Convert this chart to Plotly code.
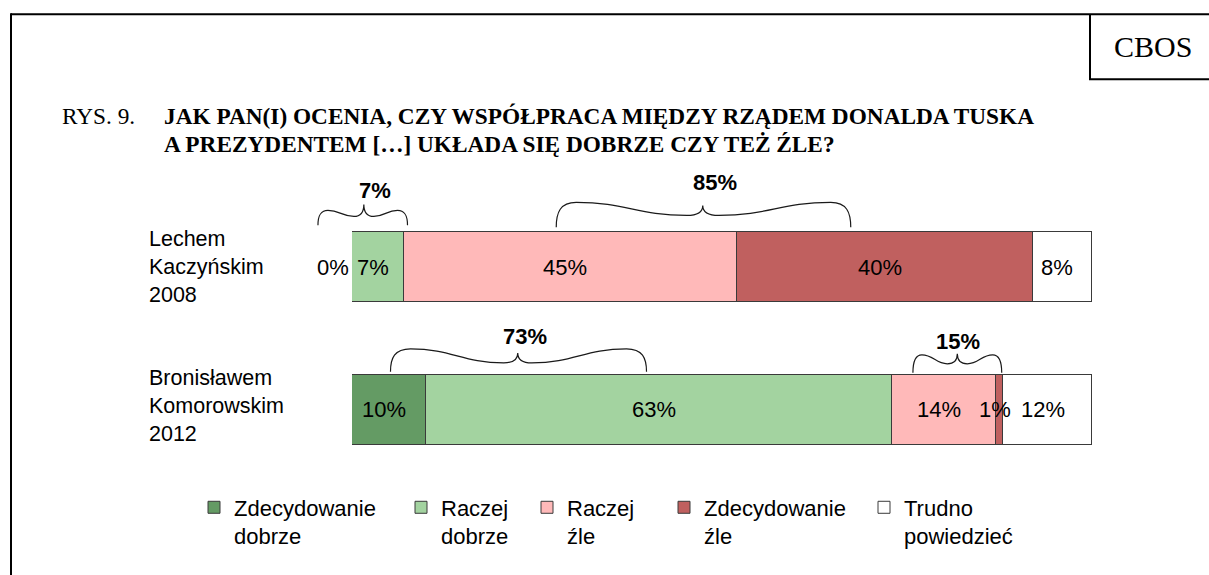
import plotly.graph_objects as go

# ---------------- data ----------------
categories = ["Lechem<br>Kaczyńskim<br>2008", "Bronisławem<br>Komorowskim<br>2012"]
series_names = ["Zdecydowanie<br>dobrze", "Raczej<br>dobrze", "Raczej<br>źle",
                "Zdecydowanie<br>źle", "Trudno<br>powiedzieć"]
zdecydowanie_dobrze = [0, 10]
raczej_dobrze = [7, 63]
raczej_zle = [45, 14]
zdecydowanie_zle = [40, 1]
trudno_powiedziec = [8, 12]
series_values = [zdecydowanie_dobrze, raczej_dobrze, raczej_zle,
                 zdecydowanie_zle, trudno_powiedziec]
# grouped sums shown with braces: (row, first series, last series)
brace_groups = [(0, 0, 1), (0, 2, 3), (1, 0, 1), (1, 2, 3)]

title_prefix = "RYS. 9."
title_lines = ["JAK PAN(I) OCENIA, CZY WSPÓŁPRACA MIĘDZY RZĄDEM DONALDA TUSKA",
               "A PREZYDENTEM […] UKŁADA SIĘ DOBRZE CZY TEŻ ŹLE?"]
source_label = "CBOS"

# ---------------- style / layout ----------------
colors = ["#649b64", "#a3d3a0", "#ffb9b9", "#c0605f", "#ffffff"]
W, H = 1209, 575
ML, MR, MT, MB = 352, 117, 196, 93.5
PW, PH = W - ML - MR, H - MT - MB
X_RANGE = [0, 100]
Y_RANGE = [1.5, -0.5]
BAR_W = 0.49
SANS = "Liberation Sans, Arial, sans-serif"
SERIF = "Liberation Serif, Times New Roman, serif"
LEGEND_X_PX = [194, 401, 527, 664, 864]   # left edge of each legend entry (px)
LEGEND_TOP_PX = 487


def xp(v):
    return (v - X_RANGE[0]) / (X_RANGE[1] - X_RANGE[0])


def yp(v):
    return (v - Y_RANGE[0]) / (Y_RANGE[1] - Y_RANGE[0])


def px2paper_x(px):
    return (px - ML) / PW


def px2paper_y(py):
    return (H - MB - py) / PH


def paper_y_to_px(p):
    return H - MB - p * PH


fig = go.Figure()
ys = list(range(len(categories)))
legend_ids = ["legend"] + [f"legend{i}" for i in range(2, len(series_names) + 1)]
for name, vals, col, lid in zip(series_names, series_values, colors, legend_ids):
    fig.add_trace(go.Bar(
        y=ys, x=vals, name=name, orientation="h", width=BAR_W, legend=lid,
        marker=dict(color=col, line=dict(color="#3a3a3a", width=1)),
        hoverinfo="x+name",
    ))

annotations = []
# value labels
for row in ys:
    cum = 0
    for s, vals in enumerate(series_values):
        v = vals[row]
        if v == 0:
            annotations.append(dict(x=xp(cum), y=yp(row), xref="paper", yref="paper",
                                    text=f"{v}%", showarrow=False, xanchor="right",
                                    yanchor="middle", xshift=-1,
                                    font=dict(family=SANS, size=22, color="black")))
        else:
            annotations.append(dict(x=xp(cum + v / 2), y=yp(row), xref="paper", yref="paper",
                                    text=f"{v}%", showarrow=False, xanchor="center",
                                    yanchor="middle", xshift=-5,
                                    font=dict(family=SANS, size=22, color="black")))
        cum += v

# category labels
for row, cat in enumerate(categories):
    annotations.append(dict(x=px2paper_x(147), y=yp(row), xref="paper", yref="paper",
                            text=cat, showarrow=False, xanchor="left", yanchor="middle",
                            align="left", yshift=(0 if row == 0 else 4),
                            font=dict(family=SANS, size=21.5, color="black")))

# braces: geometry (x in % units, y in px relative to bar top)
brace_geom = [
    dict(L=-4.6, R=7.5, T=1.6, lx=3.1, e=-7, a=-22, m=-16, t=-28, lab=-42, h=10, k=10),
    dict(L=27.6, R=67.4, T=47.4, lx=49.0, e=-5, a=-30, m=-17, t=-27, lab=-50, h=20, k=16),
    dict(L=5.2, R=39.8, T=22.4, lx=23.4, e=-3, a=-26, m=-12, t=-22, lab=-38, h=20, k=14),
    dict(L=75.8, R=87.8, T=81.8, lx=81.9, e=-2, a=-20, m=-11, t=-21, lab=-33, h=9, k=10),
]
shapes = []
PX_PER_X = PW / (X_RANGE[1] - X_RANGE[0])
for (row, s0, s1), g in zip(brace_groups, brace_geom):
    total = sum(series_values[s][row] for s in range(s0, s1 + 1))
    top_px = paper_y_to_px(yp(row - BAR_W / 2))

    def P(xv, dpx):
        return f"{xp(xv):.5f},{px2paper_y(top_px + dpx):.5f}"

    hx, kx = g["h"] / PX_PER_X, g["k"] / PX_PER_X
    L, R, T = g["L"], g["R"], g["T"]
    x1, x2, x3, x4 = L + hx, T - kx, T + kx, R - hx
    w1, w2 = (x2 - x1) * 0.45, (x4 - x3) * 0.45
    e, a, m, t = g["e"], g["a"], g["m"], g["t"]
    path = (f"M {P(L, e)} C {P(L, e + (a - e) * 0.6)} {P(L + hx * 0.2, a)} {P(x1, a)} "
            f"C {P(x1 + w1, a)} {P(x2 - w1, m)} {P(x2, m)} "
            f"Q {P(T, m)} {P(T, t)} "
            f"Q {P(T, m)} {P(x3, m)} "
            f"C {P(x3 + w2, m)} {P(x4 - w2, a)} {P(x4, a)} "
            f"C {P(R - hx * 0.2, a)} {P(R, e + (a - e) * 0.6)} {P(R, e)}")
    shapes.append(dict(type="path", path=path, xref="paper", yref="paper",
                       line=dict(color="#1a1a1a", width=1.2)))
    annotations.append(dict(x=xp(g["lx"]), y=px2paper_y(top_px + g["lab"]),
                            xref="paper", yref="paper", text=f"<b>{total}%</b>",
                            showarrow=False, xanchor="center", yanchor="middle",
                            font=dict(family=SANS, size=22, color="black")))

# title
annotations.append(dict(x=px2paper_x(60), y=px2paper_y(116), xref="paper", yref="paper",
                        text=title_prefix, showarrow=False, xanchor="left", yanchor="middle",
                        font=dict(family=SERIF, size=23.3, color="black")))
for i, line in enumerate(title_lines):
    annotations.append(dict(x=px2paper_x(162), y=px2paper_y(116 + 28 * i), xref="paper",
                            yref="paper", text=f"<b>{line}</b>", showarrow=False,
                            xanchor="left", yanchor="middle",
                            font=dict(family=SERIF, size=23.3, color="black")))
annotations.append(dict(x=px2paper_x(1153), y=px2paper_y(46), xref="paper", yref="paper",
                        text=source_label, showarrow=False, xanchor="center", yanchor="middle",
                        font=dict(family=SERIF, size=30, color="black")))

# frame lines
def line_px(x0, y0, x1, y1):
    return dict(type="line", xref="paper", yref="paper",
                x0=px2paper_x(x0), y0=px2paper_y(y0), x1=px2paper_x(x1), y1=px2paper_y(y1),
                line=dict(color="black", width=2))


shapes += [line_px(11, 14, 1212, 14), line_px(11, 13, 11, 580),
           line_px(1090, 14, 1090, 79), line_px(1089, 79, 1212, 79)]

legends = {}
for lid, lx in zip(legend_ids, LEGEND_X_PX):
    legends[lid] = dict(orientation="h", xref="paper", yref="paper",
                        x=px2paper_x(lx), y=px2paper_y(LEGEND_TOP_PX),
                        xanchor="left", yanchor="top", valign="top", itemwidth=30,
                        font=dict(family=SANS, size=22, color="black"),
                        bgcolor="rgba(0,0,0,0)")

fig.update_layout(
    width=W, height=H,
    margin=dict(l=ML, r=MR, t=MT, b=MB, autoexpand=False),
    barmode="stack", bargap=0,
    paper_bgcolor="white", plot_bgcolor="white",
    xaxis=dict(range=X_RANGE, visible=False, fixedrange=True),
    yaxis=dict(range=Y_RANGE, visible=False, fixedrange=True),
    showlegend=True,
    annotations=annotations, shapes=shapes,
    **legends,
)

fig.write_html("out.html", include_plotlyjs=True, full_html=True,
               config=dict(displayModeBar=False),
               post_script="document.body.style.margin='0px';")
